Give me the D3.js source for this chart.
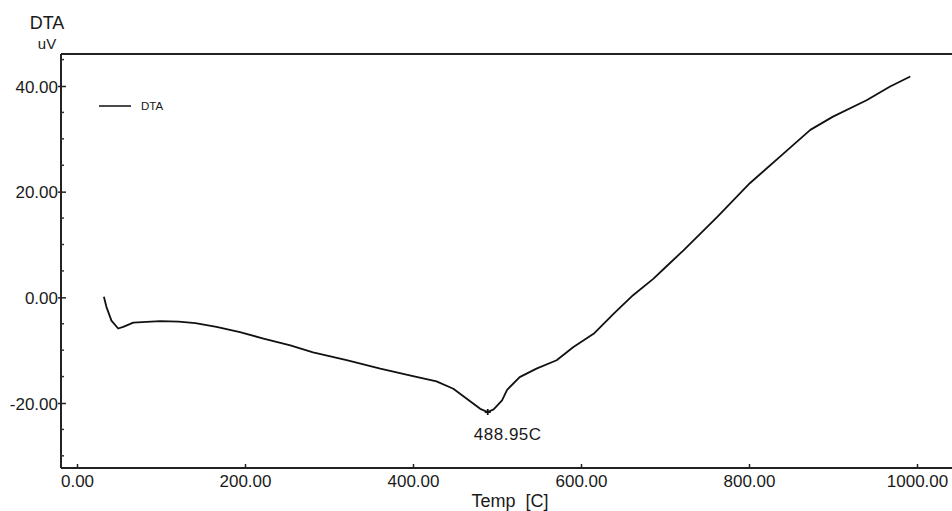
<!DOCTYPE html>
<html>
<head>
<meta charset="utf-8">
<script src="https://cdn.jsdelivr.net/npm/d3@7"></script>
<style>
  html, body { margin: 0; padding: 0; background: #fff; }
  svg { display: block; }
  text { font-family: "Liberation Sans", Arial, sans-serif; fill: #1a1a1a; }
</style>
</head>
<body>
<script>
// DTA heating curve: temperature (C) vs signal (uV)
const temps = [32, 35, 41, 49, 55, 67, 99, 121, 141, 166, 194, 222, 254, 281, 321, 361, 400, 428, 448, 464, 480, 488.95, 496, 506, 512, 527, 547, 571, 591, 615, 639, 662, 686, 700, 722, 762, 801, 841, 873, 900, 940, 968, 992];
const dta = [0.1, -1.8, -4.4, -5.9, -5.6, -4.8, -4.5, -4.6, -4.9, -5.6, -6.6, -7.8, -9.1, -10.4, -11.9, -13.5, -14.9, -15.9, -17.3, -19.2, -21.1, -21.7, -21.2, -19.5, -17.5, -15.1, -13.5, -11.9, -9.4, -6.9, -3.1, 0.4, 3.5, 5.6, 8.9, 15.2, 21.6, 27.2, 31.7, 34.2, 37.3, 39.9, 41.8];

const xTicks = [0, 200, 400, 600, 800, 1000];
const yTicks = [-20, 0, 20, 40];
const yMinorTicks = [-30, -25, -15, -10, -5, 5, 10, 15, 25, 30, 35, 45];
const peakTemp = 488.95;
const peakValue = -21.7;
const peakLabel = "488.95C";

const W = 952, H = 511;
const frame = { left: 61, top: 54, right: 952, bottom: 468 };

const x = d3.scaleLinear().domain([0, 1000]).range([77, 917]);
const y = d3.scaleLinear().domain([-20, 40]).range([403, 86]);
const fmt = d => d.toFixed(2);

const svg = d3.select("body").append("svg").attr("width", W).attr("height", H);

// frame: top border, left axis, bottom axis
svg.append("line").attr("x1", frame.left).attr("x2", frame.right)
  .attr("y1", frame.top).attr("y2", frame.top)
  .attr("stroke", "#222").attr("stroke-width", 2);
svg.append("line").attr("x1", frame.left).attr("x2", frame.left)
  .attr("y1", frame.top).attr("y2", frame.bottom)
  .attr("stroke", "#222").attr("stroke-width", 2);
svg.append("line").attr("x1", frame.left).attr("x2", frame.right)
  .attr("y1", frame.bottom).attr("y2", frame.bottom)
  .attr("stroke", "#222").attr("stroke-width", 2);

// y axis
const yAxis = d3.axisLeft(y).tickValues(yTicks).tickFormat(fmt).tickSize(0).tickPadding(4);
const gy = svg.append("g").attr("transform", `translate(${frame.left},0)`).call(yAxis);
gy.select(".domain").remove();
gy.selectAll(".tick line").attr("x1", -3).attr("x2", 5).attr("stroke", "#222").attr("stroke-width", 1.5);
gy.selectAll(".tick text").attr("font-size", 17).attr("fill", "#1a1a1a")
  .attr("font-family", "'Liberation Sans', Arial, sans-serif").attr("x", -3).attr("dy", "0.36em");
svg.append("g").selectAll("line").data(yMinorTicks).join("line")
  .attr("x1", frame.left).attr("x2", frame.left + 3)
  .attr("y1", d => y(d)).attr("y2", d => y(d))
  .attr("stroke", "#333").attr("stroke-width", 1.5);

// x axis
const xAxis = d3.axisBottom(x).tickValues(xTicks).tickFormat(fmt).tickSize(0).tickPadding(6);
const gx = svg.append("g").attr("transform", `translate(0,${frame.bottom})`).call(xAxis);
gx.select(".domain").remove();
gx.selectAll(".tick line").attr("y1", -4).attr("y2", 0).attr("stroke", "#222").attr("stroke-width", 1.5);
gx.selectAll(".tick text").attr("font-size", 17).attr("fill", "#1a1a1a")
  .attr("font-family", "'Liberation Sans', Arial, sans-serif").attr("dy", "0.75em");

// axis titles
svg.append("text").attr("x", 47).attr("y", 29).attr("text-anchor", "middle")
  .attr("font-size", 18).text("DTA");
svg.append("text").attr("x", 47).attr("y", 49).attr("text-anchor", "middle")
  .attr("font-size", 15).text("uV");
svg.append("text").attr("x", 510).attr("y", 507).attr("text-anchor", "middle")
  .attr("font-size", 18).attr("xml:space", "preserve").text("Temp  [C]");

// legend
svg.append("line").attr("x1", 99).attr("x2", 131).attr("y1", 106).attr("y2", 106)
  .attr("stroke", "#111").attr("stroke-width", 1.5);
svg.append("text").attr("x", 141).attr("y", 110).attr("font-size", 11.5).text("DTA");

// curve
const pts = temps.map((t, i) => [t, dta[i]]);
svg.append("path").datum(pts)
  .attr("fill", "none").attr("stroke", "#111").attr("stroke-width", 1.8)
  .attr("stroke-linejoin", "round")
  .attr("d", d3.line().x(d => x(d[0])).y(d => y(d[1])));

// peak marker and label
const px = x(peakTemp), py = y(peakValue);
svg.append("path")
  .attr("d", `M${px - 3},${py}H${px + 3}M${px},${py - 3}V${py + 3}`)
  .attr("stroke", "#111").attr("stroke-width", 1.8);
svg.append("text").attr("x", px + 20).attr("y", py + 28).attr("text-anchor", "middle")
  .attr("font-size", 17).attr("letter-spacing", 0.5).text(peakLabel);
</script>
</body>
</html>
